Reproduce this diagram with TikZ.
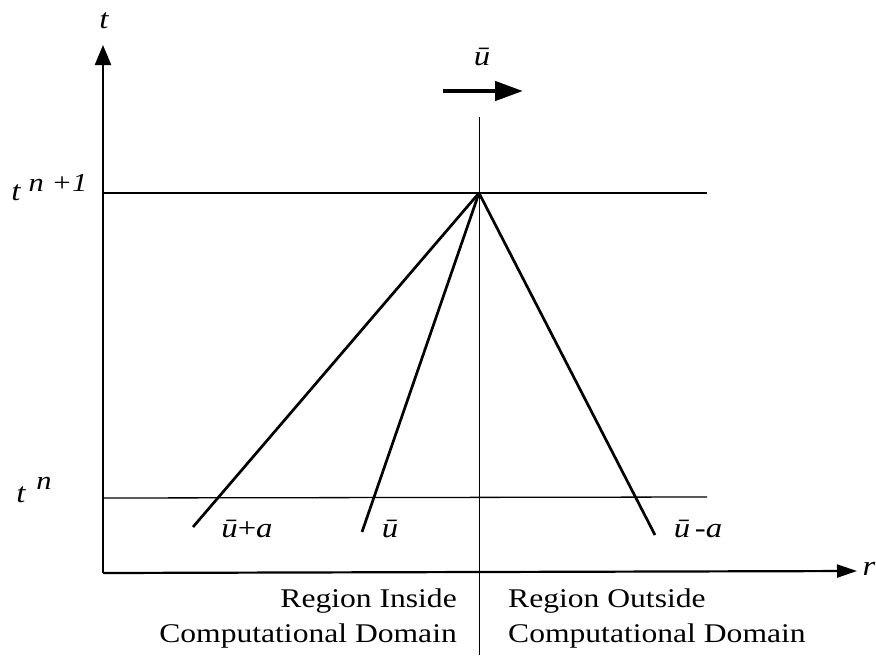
\documentclass[tikz,border=0pt]{standalone}
\usepackage{fontspec}
\setmainfont{Liberation Serif}[FakeStretch=1.17]
\usetikzlibrary{arrows.meta}
\begin{document}
\begin{tikzpicture}[x=1pt,y=-1pt,
  axis/.style={line width=2.2pt},
  level/.style={line width=1.3pt},
  charline/.style={line width=2.7pt},
  divider/.style={line width=0.9pt},
  lbl/.style={font=\fontsize{28}{32}\selectfont\itshape, inner sep=0pt, anchor=base},
  suplbl/.style={font=\fontsize{26}{30}\selectfont\itshape, inner sep=0pt, anchor=base},
  region/.style={font=\fontsize{27}{33}\selectfont, inner sep=0pt}]
\useasboundingbox (0,0) rectangle (876,662);
% key points
\coordinate (origin) at (103,573);
\coordinate (ttip) at (103,45);
\coordinate (rtip) at (857,571);
\coordinate (apex) at (479,193);
\coordinate (n1L) at (103,193);
\coordinate (n1R) at (707,193);
\coordinate (nL) at (103,498);
\coordinate (nR) at (707,497);
\coordinate (vtop) at (479,117);
\coordinate (vbot) at (479,655);
\coordinate (e1) at (193,527);
\coordinate (e2) at (362,532);
\coordinate (e3) at (655,535);
\coordinate (aL) at (443,91);
\coordinate (aR) at (523,91);
% levels and divider
\draw[level] (n1L) -- (n1R);
\draw[level] (nL) -- (nR);
\draw[divider] (vtop) -- (vbot);
% axes
\draw[axis, -{Triangle[length=20pt,width=16pt]}] (origin) -- (ttip);
\draw[axis, -{Triangle[length=20pt,width=13pt]}] (origin) -- (rtip);
% characteristics
\draw[charline] (apex) -- (e1);
\draw[charline] (apex) -- (e2);
\draw[charline] (apex) -- (e3);
% velocity arrow
\draw[line width=4.5pt, -{Triangle[length=28pt,width=19pt]}] (aL) -- (aR);
% labels
\node[lbl] (tlab) at (104,28) {t};
\node[lbl] (tn1) at (16,200) {t};
\node[suplbl] (tn1sup) at (58,191) {n +1};
\node[lbl] (tn) at (21,502) {t};
\node[suplbl] (tnsup) at (44,489) {n};
\node[lbl] (rlab) at (869,575) {r};
\node[lbl] (ubar) at (482,65) {ū};
\node[lbl] (l1) at (247,537) {ū{\upshape +}a};
\node[lbl] (l2) at (390,537) {ū};
\node[lbl] (l3) at (698,537) {ū\,{\upshape -}a};
\node[region, anchor=base east] (ri1) at (457,607) {Region Inside};
\node[region, anchor=base east] (ri2) at (457,642) {Computational Domain};
\node[region, anchor=base west] (ro1) at (508,607) {Region Outside};
\node[region, anchor=base west] (ro2) at (508,642) {Computational Domain};
\end{tikzpicture}
\end{document}
